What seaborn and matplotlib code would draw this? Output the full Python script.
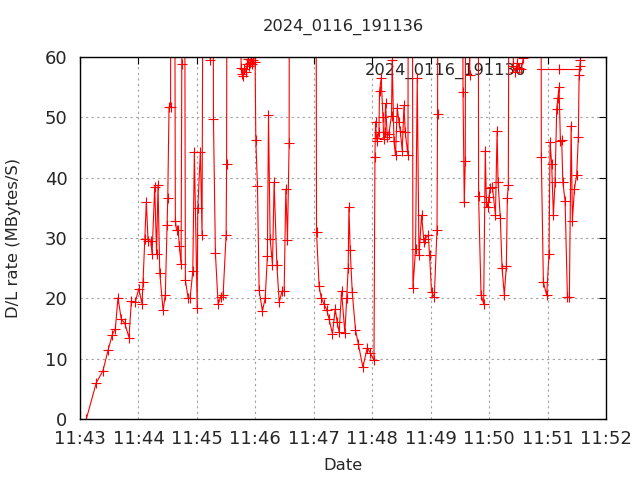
import matplotlib
matplotlib.use("Agg")
import matplotlib.dates as mdates
import numpy as np
import pandas as pd
import seaborn as sns
from matplotlib import pyplot as plt

# seconds after 11:43:00 and D/L rate (MBytes/S); 200 = off the top of the chart
seconds = [
    6.5, 16.7, 23.6, 28.8, 33.2, 36.3, 39.0, 42.4, 45.9, 50.3,
    52.7, 56.8, 60.3, 63.7, 64.7, 66.5, 68.1, 69.9, 72.6, 74.0,
    76.7, 78.6, 80.1, 81.9, 85.3, 87.6, 89.4, 90.1, 91.4, 93.0,
    94.0, 95.5, 97.9, 99.1, 100.7, 102.0, 103.8, 104.5, 105.8, 108.2,
    111.0, 113.0, 115.8, 117.4, 120.3, 120.9, 123.6, 125.3, 128.4, 131.5,
    133.9, 135.6, 137.0, 139.0, 141.8, 144.6, 146.9, 150.0, 150.5, 152.0,
    156.0, 160.0, 165.4, 166.4, 167.5, 168.5, 170.5, 171.6, 172.6, 173.6,
    174.7, 175.7, 176.7, 177.7, 178.8, 179.8, 180.5, 182.2, 183.9, 187.3,
    190.1, 192.4, 193.5, 195.2, 197.6, 199.3, 202.1, 204.5, 207.5, 209.6,
    211.3, 213.0, 214.7, 215.8, 221.9, 229.1, 236.3, 241.4, 242.8, 245.5,
    247.6, 250.7, 253.5, 255.8, 259.2, 262.0, 264.0, 266.1, 268.5, 271.9,
    273.8, 275.3, 276.1, 277.4, 279.5, 282.8, 285.6, 290.4, 294.9, 298.0,
    301.8, 302.8, 303.4, 304.4, 305.1, 306.9, 307.5, 309.2, 311.0, 311.8,
    313.0, 313.7, 315.4, 317.0, 319.8, 320.5, 322.3, 323.9, 325.7, 327.4,
    328.8, 330.8, 332.6, 333.9, 336.7, 338.0, 340.1, 341.8, 344.5, 346.2,
    348.0, 350.7, 353.1, 354.4, 357.5, 358.9, 360.9, 363.7, 366.5, 367.1,
    368.8, 375.0, 382.2, 388.4, 391.4, 393.2, 394.5, 395.5, 397.6, 400.0,
    401.7, 404.8, 407.9, 409.2, 411.7, 414.4, 416.1, 417.2, 418.5, 419.8,
    421.3, 423.4, 426.5, 428.2, 429.2, 431.5, 433.3, 435.6, 437.7, 438.7,
    439.7, 442.5, 444.9, 446.9, 449.0, 451.0, 453.1, 455.1, 456.7, 462.3,
    467.5, 472.3, 473.6, 475.7, 479.1, 481.5, 482.6, 484.2, 486.0, 487.7,
    489.4, 490.6, 491.8, 493.2, 494.5, 495.7, 498.0, 500.4, 502.4, 504.2,
    505.5, 507.6, 509.9, 511.6, 512.4, 513.2, 513.7, 514.7,
]
rates = [
    0.0, 6.0, 8.0, 11.4, 14.0, 15.0, 20.1, 16.5, 15.9, 13.5,
    19.5, 19.4, 21.6, 19.1, 22.7, 29.9, 36.0, 29.5, 29.5, 27.4,
    38.5, 27.4, 38.8, 24.2, 18.0, 20.6, 32.2, 36.6, 51.7, 51.7,
    200, 200, 32.9, 31.3, 31.3, 28.7, 25.7, 58.8, 200, 23.0,
    20.0, 20.0, 24.5, 44.3, 18.4, 34.9, 44.3, 30.5, 200, 200,
    59.5, 200, 49.7, 27.5, 19.0, 20.3, 20.5, 30.5, 42.3, 200,
    200, 200, 58.2, 57.2, 56.8, 58.0, 57.5, 58.8, 59.7, 58.5,
    59.0, 59.5, 58.8, 59.5, 200, 59.2, 46.2, 38.6, 21.3, 17.9,
    20.0, 27.0, 50.4, 29.8, 25.6, 39.2, 25.6, 19.4, 21.2, 21.2,
    38.1, 29.7, 45.8, 200, 200, 200, 200, 200, 31.0, 22.0,
    20.1, 19.0, 18.0, 16.5, 14.1, 18.3, 16.0, 14.4, 21.2, 14.3,
    20.0, 25.0, 35.1, 28.0, 21.0, 14.8, 12.5, 8.6, 11.8, 11.0,
    9.7, 43.5, 49.3, 46.6, 46.0, 47.6, 54.3, 56.5, 50.0, 46.4,
    47.5, 52.3, 46.8, 47.2, 50.3, 59.5, 46.1, 43.7, 51.6, 49.3,
    47.7, 44.5, 52.0, 47.5, 43.7, 200, 200, 21.7, 28.2, 56.5,
    27.1, 33.8, 29.3, 29.9, 30.5, 27.2, 21.0, 20.2, 31.3, 50.6,
    200, 200, 200, 200, 200, 54.2, 35.9, 42.7, 200, 57.0,
    200, 200, 200, 36.9, 20.6, 19.1, 44.5, 36.0, 35.1, 36.8,
    38.3, 38.4, 33.8, 47.7, 39.2, 33.3, 25.0, 20.6, 25.3, 36.6,
    38.8, 200, 58.5, 57.5, 59.0, 58.2, 58.0, 59.8, 200, 200,
    200, 200, 43.4, 22.7, 20.5, 27.4, 45.9, 42.3, 33.8, 39.3,
    51.4, 53.2, 55.0, 46.0, 46.2, 39.3, 36.1, 20.2, 20.2, 48.6,
    32.9, 38.2, 40.4, 46.7, 57.0, 58.5, 59.5, 200,
]
run_name = "2024_0116_191136"
start = pd.Timestamp("2024-01-16 11:43:00")

df = pd.DataFrame({
    "Date": start + pd.to_timedelta(seconds, unit="s"),
    "rate": rates,
})

sns.set_theme(style="white", rc={
    "axes.edgecolor": "black",
    "axes.linewidth": 1.0,
    "xtick.direction": "in",
    "ytick.direction": "in",
})
plt.rcParams["font.family"] = ["DejaVu Sans"]

fig = plt.figure(figsize=(6.4, 4.8), dpi=100)
ax = fig.add_axes([80 / 640, 1 - 419 / 480, 526 / 640, 362 / 480])

sns.lineplot(
    data=df, x="Date", y="rate", ax=ax,
    color="red", linewidth=0.8, marker="+", markersize=7,
    markeredgewidth=0.8, markeredgecolor="red",
    estimator=None, sort=False, label=run_name,
)

ax.set_ylim(0, 60)
ax.set_yticks(np.arange(0, 61, 10))
ax.set_xlim(start, start + pd.Timedelta(minutes=9))
ax.xaxis.set_major_locator(mdates.MinuteLocator())
ax.xaxis.set_major_formatter(mdates.DateFormatter("%H:%M"))
ax.tick_params(axis="both", which="major", labelsize=13, length=5,
               width=0.8, color="black", top=True, right=True)
ax.tick_params(axis="x", pad=8)
ax.tick_params(axis="y", pad=9)
ax.grid(True, color="#a0a0a0", linestyle=(0, (2, 3)), linewidth=0.8)

ax.set_xlabel("Date", fontsize=11.8)
ax.set_ylabel("D/L rate (MBytes/S)", fontsize=11.8)
ax.xaxis.set_label_coords(0.5, (419 - 465) / 362)
ax.xaxis.label.set_va("center")
ax.yaxis.set_label_coords((14 - 80) / 526, 0.5)
ax.yaxis.label.set_va("center")

leg = ax.legend(loc="upper right", bbox_to_anchor=(0.953, 0.985),
                markerfirst=False, frameon=False, fontsize=11.7,
                handlelength=2.7, handletextpad=0.7,
                borderpad=0, borderaxespad=0)
leg.set_zorder(1)

# title centred over the plot area
fig.text(343 / 640, 1 - 27 / 480, run_name, ha="center", va="center",
         fontsize=11.7)

fig.savefig("out.png", dpi=100)
